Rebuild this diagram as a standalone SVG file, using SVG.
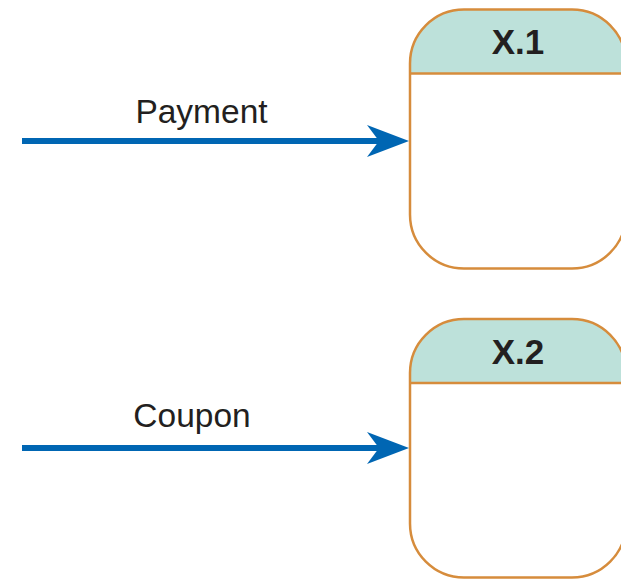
<svg xmlns="http://www.w3.org/2000/svg" width="621" height="579" viewBox="0 0 621 579">
<style>
.hdr{fill:#bde1da;stroke:none}
.box{fill:none;stroke:#d68c3c;stroke-width:2.5}
.ttl{font-family:"Liberation Sans",Arial,sans-serif;font-weight:bold;font-size:35px;fill:#231f20;text-anchor:middle}
.lbl{font-family:"Liberation Sans",Arial,sans-serif;font-size:33.5px;fill:#231f20;text-anchor:middle}
.flow{stroke:#0066b3;stroke-width:6;fill:none}
.head{fill:#0066b3}
</style>
<rect width="621" height="579" fill="#ffffff"/>
<g id="connectors">
  <g id="payment-flow">
    <line class="flow" x1="22" y1="141" x2="380" y2="141"/>
    <polygon class="head" points="409,141 367,125 379,141 367,157"/>
    <text class="lbl" x="201.5" y="122.5">Payment</text>
  </g>
  <g id="coupon-flow">
    <line class="flow" x1="22" y1="448" x2="380" y2="448"/>
    <polygon class="head" points="409,448 367,432 379,448 367,464"/>
    <text class="lbl" x="192" y="427">Coupon</text>
  </g>
</g>
<g id="node-x1">
  <path class="hdr" d="M410,73.5 V63.5 A54,54 0 0 1 464,9.5 H572 A54,54 0 0 1 626,63.5 V73.5 Z"/>
  <rect class="box" x="410" y="9.5" width="216" height="259" rx="54" ry="54"/>
  <line class="box" x1="410" y1="73.5" x2="626" y2="73.5"/>
  <text class="ttl" x="518" y="54">X.1</text>
</g>
<g id="node-x2">
  <path class="hdr" d="M410,383 V373 A54,54 0 0 1 464,319 H572 A54,54 0 0 1 626,373 V383 Z"/>
  <rect class="box" x="410" y="319" width="216" height="258.5" rx="54" ry="54"/>
  <line class="box" x1="410" y1="383" x2="626" y2="383"/>
  <text class="ttl" x="518" y="364">X.2</text>
</g>
</svg>
